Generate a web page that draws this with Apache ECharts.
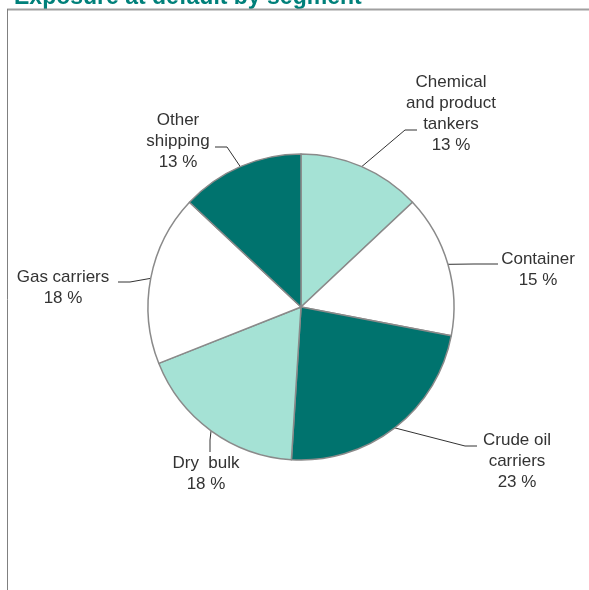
<!DOCTYPE html>
<html>
<head>
<meta charset="utf-8">
<title>Exposure at default by segment</title>
<script src="https://cdn.jsdelivr.net/npm/echarts@6/dist/echarts.min.js"></script>
<style>
  html, body { margin: 0; padding: 0; background: #ffffff; }
  #chart { width: 589px; height: 590px; }
</style>
</head>
<body>
<div id="chart"></div>
<script>
// Segments, clockwise from twelve o'clock
const categories = [
  'Chemical\nand product\ntankers',
  'Container',
  'Crude oil\ncarriers',
  'Dry  bulk',
  'Gas carriers',
  'Other\nshipping'
];
const shares = [13, 15, 23, 18, 18, 13];

const DARK = '#00736e';
const LIGHT = '#a5e2d5';
const sliceColors = [LIGHT, '#ffffff', DARK, LIGHT, '#ffffff', DARK];

// Label placement: text centre, elbow of the leader line and its end
const labelSpots = [
  { x: 451, y: 114, elbow: [405, 130], end: [417, 130] },
  { x: 538, y: 270, elbow: [474, 264], end: [498, 264] },
  { x: 517, y: 461, elbow: [465, 446], end: [477, 446] },
  { x: 206, y: 474, elbow: [210, 440], end: [210, 452] },
  { x: 63,  y: 288, elbow: [130, 282], end: [118, 282] },
  { x: 178, y: 141, elbow: [227, 147], end: [215, 147] }
];

const chart = echarts.init(document.getElementById('chart'), null, { renderer: 'canvas' });

chart.setOption({
  backgroundColor: '#ffffff',
  animation: false,
  graphic: [
    {
      type: 'text',
      left: 14,
      top: -14,
      style: {
        text: 'Exposure at default by segment',
        font: 'bold 23px "Liberation Sans", Arial, sans-serif',
        fill: '#00807a'
      }
    },
    {
      type: 'line',
      shape: { x1: 7, y1: 9.5, x2: 589, y2: 9.5 },
      style: { stroke: '#a0a0a0', lineWidth: 2 }
    },
    {
      type: 'line',
      shape: { x1: 7.5, y1: 9, x2: 7.5, y2: 590 },
      style: { stroke: '#808080', lineWidth: 1 }
    }
  ],
  series: [{
    type: 'pie',
    center: [301, 307],
    radius: 153,
    startAngle: 90,
    clockwise: true,
    avoidLabelOverlap: false,
    data: categories.map((name, i) => ({
      name: name,
      value: shares[i],
      itemStyle: { color: sliceColors[i] }
    })),
    itemStyle: { borderColor: '#8a8a8a', borderWidth: 1.5 },
    label: {
      show: true,
      position: 'outside',
      formatter: p => p.name + '\n' + p.value + ' %',
      fontFamily: '"Liberation Sans", Arial, sans-serif',
      fontSize: 17,
      lineHeight: 21,
      color: '#333333',
      align: 'center'
    },
    labelLine: {
      show: true,
      length: 20,
      length2: 10,
      lineStyle: { color: '#333333', width: 1 }
    },
    emphasis: { disabled: true },
    labelLayout: function (params) {
      const spot = labelSpots[params.dataIndex];
      const start = params.labelLinePoints ? params.labelLinePoints[0] : spot.elbow;
      return {
        x: spot.x,
        y: spot.y,
        align: 'center',
        verticalAlign: 'middle',
        labelLinePoints: [start, spot.elbow, spot.end]
      };
    }
  }]
});
</script>
</body>
</html>
